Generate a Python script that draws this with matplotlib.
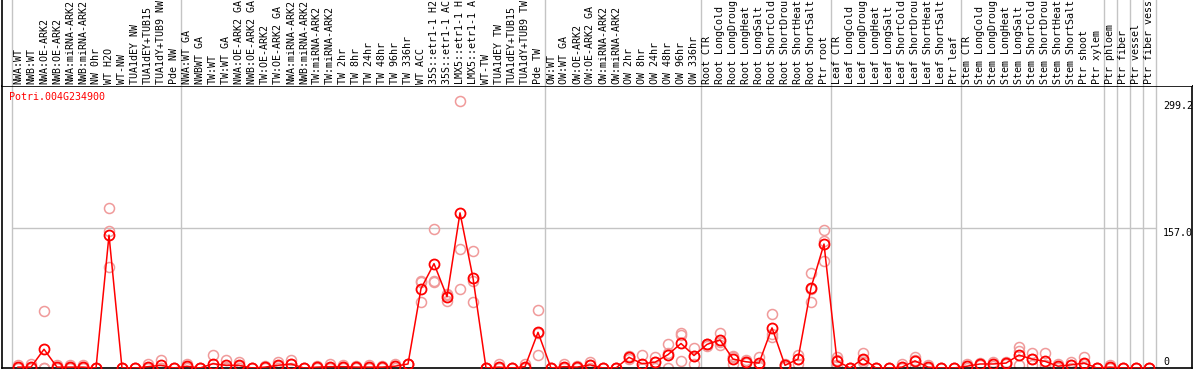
import matplotlib
matplotlib.use('Agg')
import matplotlib.pyplot as plt
import numpy as np

plt.rcParams['font.family'] = ['DejaVu Sans Mono']

gene = 'Potri.004G234900'

labels = [
    'NWA:WT', 'NWB:WT', 'NWA:OE-ARK2', 'NWB:OE-ARK2', 'NWA:miRNA-ARK2', 'NWB:miRNA-ARK2',
    'NW 0hr', 'WT H2O', 'WT-NW', 'TUA1dEY NW', 'TUA1dEY+TUB15', 'TUA1dY+TUB9 NW', 'Pde NW',
    'NWA:WT GA', 'NWBWT GA', 'TW:WT', 'TW:WT GA', 'NWA:OE-ARK2 GA', 'NWB:OE-ARK2 GA',
    'TW:OE-ARK2', 'TW:OE-ARK2 GA', 'NWA:miRNA-ARK2', 'NWB:miRNA-ARK2', 'TW:miRNA-ARK2',
    'TW:miRNA-ARK2', 'TW 2hr', 'TW 8hr', 'TW 24hr', 'TW 48hr', 'TW 96hr', 'TW 336hr',
    'WT ACC', '35S::etr1-1 H2', '35S::etr1-1 AC', 'LMX5::etr1-1 H', 'LMX5::etr1-1 A',
    'WT-TW', 'TUA1dEY TW', 'TUA1dEY+TUB15', 'TUA1dY+TUB9 TW', 'Pde TW',
    'OW:WT', 'OW:WT GA', 'OW:OE-ARK2', 'OW:OE-ARK2 GA', 'OW:miRNA-ARK2', 'OW:miRNA-ARK2',
    'OW 2hr', 'OW 8hr', 'OW 24hr', 'OW 48hr', 'OW 96hr', 'OW 336hr',
    'Root CTR', 'Root LongCold', 'Root LongDroug', 'Root LongHeat', 'Root LongSalt',
    'Root ShortCold', 'Root ShortDrou', 'Root ShortHeat', 'Root ShortSalt', 'Ptr root',
    'Leaf CTR', 'Leaf LongCold', 'Leaf LongDroug', 'Leaf LongHeat', 'Leaf LongSalt',
    'Leaf ShortCold', 'Leaf ShortDrou', 'Leaf ShortHeat', 'Leaf ShortSalt', 'Ptr leaf',
    'Stem CTR', 'Stem LongCold', 'Stem LongDroug', 'Stem LongHeat', 'Stem LongSalt',
    'Stem ShortCold', 'Stem ShortDrou', 'Stem ShortHeat', 'Stem ShortSalt', 'Ptr shoot',
    'Ptr xylem', 'Ptr phloem', 'Ptr fiber', 'Ptr vessel', 'Ptr fiber vess',
]

# mean expression per sample
means = [
    1, 1, 21, 1, 1, 1, 0, 149, 0, 0, 1.5, 3, 0,
    2, 0, 4.8, 3, 3, 0, 1, 3, 4.5, 0, 1, 1.5, 1.5, 1, 1, 1, 2, 4.5,
    89, 117, 80, 174, 101, 0, 1, 0, 1.5, 40,
    0, 1.5, 1, 3.5, 0, 0, 12, 4.8, 6.5, 15, 27.5, 14,
    26.5, 31.5, 10, 7, 5.5, 45, 3, 10, 90, 139,
    8, 0, 10.5, 0, 0, 1, 8, 1, 0, 0,
    2, 4.5, 4.5, 5.5, 14.5, 10, 7.5, 2, 3.5, 5.5,
    0, 1, 0, 0, 0,
]

# replicates
rep1 = [
    3.7, 4, 64, 3, 3, 3, 0, 179, 0, 0, 5, 9, 0,
    5, 0, 14.5, 8.5, 7, 0, 2, 7, 9, 0, 2, 4, 3, 2, 3, 2, 4, 5,
    98, 156, 83, 299.2, 131, 0, 4, 0, 5, 65.5,
    0, 4.5, 2, 7, 0, 0, 14, 14.4, 12.6, 26.7, 38.9, 22,
    27, 39.6, 13, 8.5, 12.6, 60, 5, 14.4, 106, 155,
    12.6, 0, 16.7, 0, 0, 5, 11.8, 3, 0, 0,
    4, 6, 7, 6.5, 23, 16.7, 16.7, 5, 7, 12.6,
    0, 3, 0, 0, 0,
]
rep2 = [
    0, 0, 0, 0, 0, 0, 0, 154, 0, 0, 0, 0, 0,
    1, 0, 0, 1, 2, 0, 1, 2, 4, 0, 1, 0.5, 1, 1, 0, 1, 2, 4.5,
    96, 98, 82, 134, 98, 0, 0, 0, 0, 39,
    0, 0, 1, 3.5, 0, 0, 12, 0, 7, 17, 36.7, 14,
    27, 29, 12.5, 7, 3, 37.8, 3, 10.5, 89, 142,
    8.5, 0, 8.5, 0, 0, 0, 9.5, 0, 0, 0,
    2, 4.5, 4.5, 5.5, 19.6, 10, 3, 1, 3.5, 4,
    0, 0, 0, 0, 0,
]
rep3 = [
    0, 0, 0, 0, 0, 0, 0, 113, 0, 0, 0, 0, 0,
    0, 0, 0, 0, 0, 0, 0, 0, 0, 0, 0, 0, 0, 0, 0, 0, 0, 4,
    74, 96, 75, 88.5, 74, 0, 0, 0, 0, 14.4,
    0, 0, 0, 0, 0, 0, 10, 0, 0, 0, 7.8, 4.8,
    25, 26, 4.4, 5.5, 1, 35.2, 1, 5, 74, 120,
    3, 0, 7, 0, 0, 0, 2, 0, 0, 0,
    0, 3, 2, 4.5, 3, 3, 3, 0, 0.5, 0,
    0, 0, 0, 0, 0,
]

# group separators (after sample index)
seps = [-0.5, 12.5, 40.5, 52.5, 62.5, 72.5, 83.5, 84.5, 85.5, 86.5, 87.5]
ticks = [0, 157.0, 299.2]

W, H = 1194, 370
fig = plt.figure(figsize=(W / 100, H / 100), dpi=100)

ax = fig.add_axes([2 / W, 2 / H, 1190 / W, 282 / H])
axl = fig.add_axes([2 / W, 284 / H, 1190 / W, 86 / H])

xl = ((2 - 18) / 13, (1192 - 18) / 13)
scale = 140 / 157.0
x = np.arange(len(labels))

ax.set_xlim(*xl)
ax.set_ylim(0, 282 / scale)
axl.set_xlim(*xl)
axl.set_ylim(0, 86)

for a in (ax, axl):
    a.set_xticks([])
    a.set_yticks([])
    for s in a.spines.values():
        s.set_color('black')
        s.set_linewidth(1.2)
    for sx in seps:
        a.axvline(sx, color='#c4c4c4', lw=1.0, zorder=0)
axl.spines['top'].set_visible(False)
axl.spines['right'].set_visible(False)
axl.spines['bottom'].set_visible(False)

ax.hlines(157.0, seps[0], seps[-1], color='#c4c4c4', lw=1.0, zorder=0)

for r in (rep1, rep2, rep3):
    ax.plot(x, r, 'o', ms=7.2, mfc='none', mec='#f09a9a', mew=1.1, zorder=2)
ax.plot(x, means, '-', color='red', lw=1.1, zorder=3)
ax.plot(x, means, 'o', ms=7.2, mfc='none', mec='red', mew=1.3, zorder=4)

for i, lab in enumerate(labels):
    axl.text(i, 2, lab, rotation=90, ha='center', va='bottom', fontsize=7.2)

tx = (1163 - 18) / 13
ax.text(tx, 299.2, '299.2', ha='left', va='top', fontsize=7.2)
ax.text(tx, 157.0, '157.0', ha='left', va='top', fontsize=7.2)
ax.text(tx, 1, '0', ha='left', va='bottom', fontsize=7.2)

fig.text(9 / W, 1 - 97 / H, gene, color='red', ha='left', va='center', fontsize=7.2)

fig.savefig('out.png', dpi=100)
